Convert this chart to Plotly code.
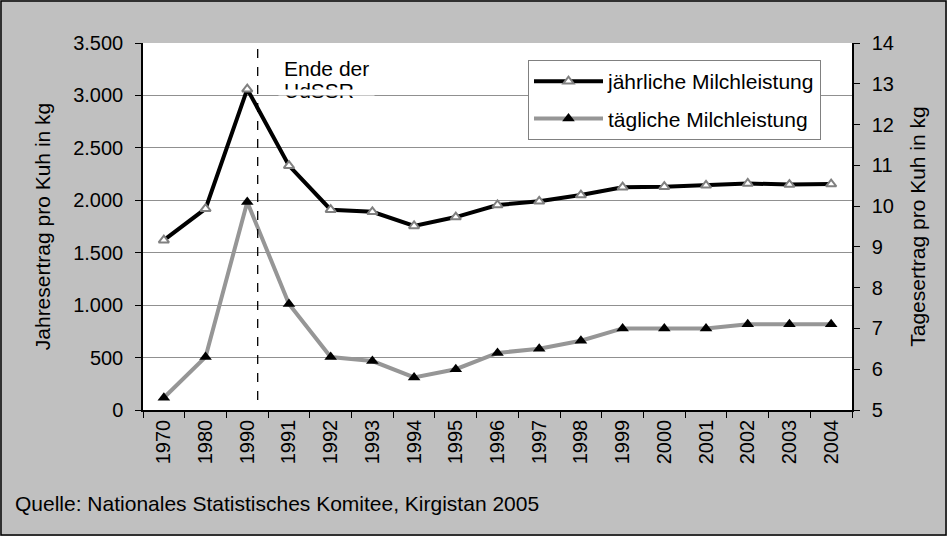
import plotly.graph_objects as go

years = ["1970", "1980", "1990", "1991", "1992", "1993", "1994", "1995", "1996",
         "1997", "1998", "1999", "2000", "2001", "2002", "2003", "2004"]
annual = [1620, 1920, 3060, 2330, 1910, 1890, 1755, 1840, 1955,
          1990, 2050, 2125, 2130, 2143, 2160, 2150, 2155]
daily = [5.3, 6.3, 10.1, 7.6, 6.3, 6.2, 5.8, 6.0, 6.4,
         6.5, 6.7, 7.0, 7.0, 7.0, 7.1, 7.1, 7.1]

W, H = 947, 536
L, R, T, B = 143, 95, 43, 126
pw, ph = W - L - R, H - T - B

font = "Liberation Sans, Arial, sans-serif"

fig = go.Figure()
fig.add_trace(go.Scatter(
    x=years, y=annual, name="jährliche Milchleistung", mode="lines+markers",
    line=dict(color="black", width=4), legendgroup="a",
    marker=dict(symbol="triangle-up", size=9, color="white",
                line=dict(color="#808080", width=2)),
    yaxis="y"))
fig.add_trace(go.Scatter(
    x=years, y=daily, name="tägliche Milchleistung", mode="lines+markers",
    line=dict(color="#969696", width=4), legendgroup="b",
    marker=dict(symbol="triangle-up", size=11, color="black",
                line=dict(color="black", width=0)),
    yaxis="y2"))

def px_x(p):
    return (p - L) / pw

def px_y(p):
    return (H - B - p) / ph

shapes = [
    dict(type="line", xref="x", yref="paper", x0=2.25, x1=2.25, y0=px_y(400), y1=1,
         line=dict(color="black", width=1.3, dash="dash")),
    dict(type="rect", xref="paper", yref="paper", x0=px_x(1), x1=px_x(W - 1),
         y0=px_y(H - 1), y1=px_y(1), line=dict(color="black", width=1.5),
         layer="below"),
]

annotations = [
    dict(xref="paper", yref="paper", x=px_x(282), y=px_y(68), xanchor="left",
         yanchor="middle", align="left", text="Ende der", showarrow=False,
         font=dict(family=font, size=21, color="black")),
    dict(xref="paper", yref="paper", x=px_x(282), y=px_y(90), xanchor="left",
         yanchor="middle", align="left", text="UdSSR", showarrow=False,
         font=dict(family=font, size=21, color="black")),
    dict(xref="paper", yref="paper", x=px_x(278), y=px_y(89), xanchor="left",
         yanchor="top", text=" ", showarrow=False, bgcolor="white",
         width=95, height=5, borderpad=0, font=dict(size=4)),
    dict(xref="paper", yref="paper", x=px_x(13), y=px_y(503), xanchor="left",
         yanchor="middle", text="Quelle: Nationales Statistisches Komitee, Kirgistan 2005",
         showarrow=False, font=dict(family=font, size=21, color="black")),
]

fig.update_layout(
    width=W, height=H,
    margin=dict(l=L, r=R, t=T, b=B, autoexpand=False),
    paper_bgcolor="#c0c0c0",
    plot_bgcolor="white",
    separators=",.",
    font=dict(family=font, size=20, color="black"),
    showlegend=True,
    legend=dict(x=px_x(528), y=px_y(60), xanchor="left", yanchor="top",
                bgcolor="white", bordercolor="#808080", borderwidth=1,
                font=dict(family=font, size=21), itemwidth=69,
                tracegroupgap=7),
    xaxis=dict(type="category", tickangle=-90, showgrid=False, automargin=False,
               showline=True, linecolor="black", linewidth=1.5,
               ticks="outside", tickson="boundaries", ticklen=6, tickcolor="black",
               tickfont=dict(size=20), range=[-0.5, 16.5]),
    yaxis=dict(range=[0, 3500], dtick=500, tickformat=",d", showgrid=True,
               gridcolor="#909090", gridwidth=1, showline=True, linecolor="black",
               linewidth=1.5, ticks="outside", ticklen=6, tickcolor="black",
               zeroline=False, automargin=False, ticklabelstandoff=8,
               title=dict(text="Jahresertrag pro Kuh in kg", standoff=17,
                          font=dict(size=21))),
    yaxis2=dict(range=[5, 14], dtick=1, overlaying="y", side="right",
                showgrid=False, showline=True, linecolor="black", linewidth=1.5,
                ticks="outside", ticklen=6, tickcolor="black", zeroline=False,
                automargin=False, ticklabelstandoff=8,
                title=dict(text="Tagesertrag pro Kuh in kg", standoff=17,
                           font=dict(size=21))),
    shapes=shapes,
    annotations=annotations,
)

fig.write_html("out.html", config={"displayModeBar": False},
               post_script="document.body.style.margin='0';")
